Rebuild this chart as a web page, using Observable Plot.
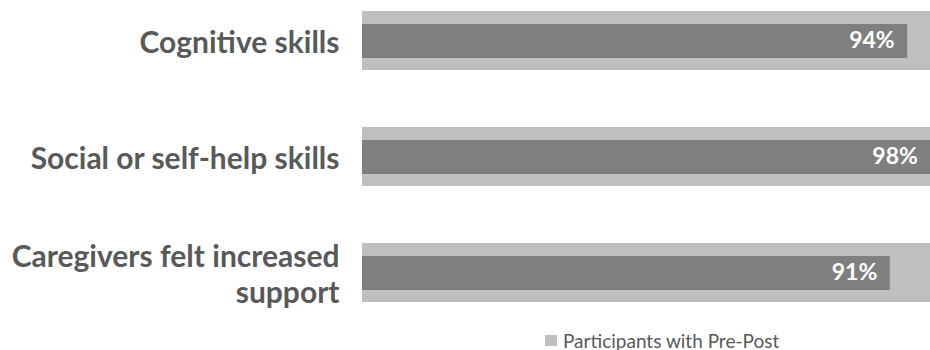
<!DOCTYPE html>
<html>
<head>
<meta charset="utf-8">
<script src="https://cdn.jsdelivr.net/npm/d3@7"></script>
<script src="https://cdn.jsdelivr.net/npm/@observablehq/plot@0.6"></script>
<style>
  html, body { margin: 0; padding: 0; background: #fff; overflow: hidden; width: 930px; height: 350px; }
  #chart svg { display: block; }
  .legend { font-family: Lato, sans-serif; font-size: 19px; color: #595959; padding-left: 545px; display: flex; align-items: center; height: 24px; margin-top: 4px; }
  .legend .sw { width: 12px; height: 11px; background: #BFBFBF; margin-right: 6px; }
</style>
</head>
<body>
<div id="chart"></div>
<div class="legend"><span class="sw"></span><span>Participants with Pre-Post</span></div>
<script>
const categories = ["Cognitive skills", "Social or self-help skills", "Caregivers felt increased support"];
const tickLabels = ["Cognitive skills", "Social or self-help skills", "Caregivers felt increased\nsupport"];
const totals = [1, 1, 1];
const values = [0.94, 0.98, 0.91];

const data = categories.map((c, i) => ({category: c, total: totals[i], value: values[i], label: tickLabels[i]}));

const chart = Plot.plot({
  width: 930,
  height: 324,
  marginLeft: 362,
  marginRight: 0,
  marginTop: 10,
  marginBottom: 22,
  style: {fontFamily: "Lato, sans-serif", background: "#fff"},
  x: {domain: [0, 1], range: [362, 942], axis: null},
  y: {domain: categories, paddingInner: 0.494, paddingOuter: 0, axis: null},
  marks: [
    Plot.barX(data, {y: "category", x: "total", fill: "#BFBFBF"}),
    Plot.barX(data, {y: "category", x: "value", fill: "#7F7F7F", insetTop: 13, insetBottom: 12}),
    Plot.text(data, {y: "category", x: "value", text: d => Math.round(d.value * 100) + "%", textAnchor: "end", dx: -13, fill: "white", fontWeight: "bold", fontSize: 23}),
    Plot.axisY({
      tickSize: 0,
      tickPadding: 23,
      fontSize: 30,
      fontWeight: "bold",
      fill: "#595959",
      lineHeight: 1.2,
      label: null,
      tickFormat: d => tickLabels[categories.indexOf(d)]
    })
  ]
});
document.getElementById("chart").appendChild(chart);
</script>
</body>
</html>
